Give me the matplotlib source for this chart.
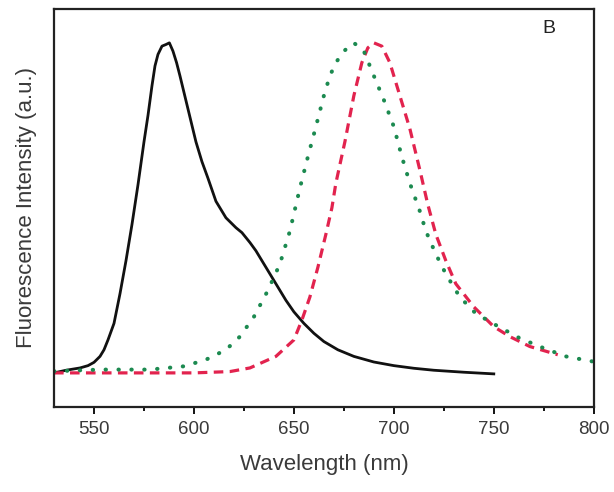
import matplotlib
matplotlib.use("Agg")
import matplotlib.pyplot as plt
from matplotlib.ticker import MultipleLocator

plt.rcParams["font.family"] = ["Liberation Sans", "DejaVu Sans"]

# black solid spectrum
black_nm = [530, 536, 543, 547, 550, 553, 555, 557, 560, 563, 566, 569, 572,
            575, 577, 579, 580.5, 582, 584, 586, 587.7, 589.5, 591.3, 593,
            595, 597, 599, 601, 604, 607, 611, 616, 621, 624, 626, 628, 631,
            635, 640, 646, 650, 655, 660, 665, 672, 680, 690, 700, 710, 720,
            735, 750]
black_val = [0.0, 0.008, 0.015, 0.022, 0.032, 0.05, 0.07, 0.1, 0.15, 0.24,
             0.34, 0.45, 0.57, 0.70, 0.78, 0.87, 0.93, 0.965, 0.99, 0.995,
             1.0, 0.975, 0.94, 0.9, 0.85, 0.80, 0.75, 0.70, 0.64, 0.59, 0.52,
             0.47, 0.44, 0.425, 0.41, 0.395, 0.37, 0.33, 0.28, 0.22, 0.185,
             0.15, 0.12, 0.095, 0.07, 0.05, 0.033, 0.022, 0.014, 0.008,
             0.002, -0.003]

# green dotted spectrum
green_nm = [530, 553, 578, 595, 606, 616, 623, 630, 637, 643, 648, 653, 657,
            661, 665, 668, 671, 675, 680, 685, 690, 695, 700, 704, 708, 713,
            716, 721, 726, 733, 741, 751, 763, 775, 786, 800]
green_val = [0.005, 0.01, 0.01, 0.02, 0.04, 0.07, 0.11, 0.17, 0.25, 0.33, 0.43,
             0.56, 0.655, 0.746, 0.84, 0.90, 0.94, 0.975, 1.0, 0.975, 0.90,
             0.827, 0.746, 0.655, 0.575, 0.49, 0.43, 0.36, 0.30, 0.23, 0.18,
             0.145, 0.105, 0.075, 0.05, 0.034]

# red dashed spectrum
red_nm = [530, 560, 600, 618, 628, 641, 650, 654, 658, 662, 666, 669, 671,
          675.5, 680, 684, 687, 690, 694, 698, 703, 708, 713, 717, 721, 726,
          731, 740, 750, 758, 768, 782]
red_val = [0.0, 0.0, 0.0, 0.004, 0.015, 0.05, 0.10, 0.16, 0.23, 0.32, 0.42,
           0.50, 0.575, 0.70, 0.84, 0.94, 0.985, 1.0, 0.99, 0.94, 0.84, 0.74,
           0.615, 0.51, 0.42, 0.34, 0.27, 0.20, 0.14, 0.11, 0.08, 0.055]

fig = plt.figure(figsize=(6.14, 4.92), dpi=100)
ax = fig.add_axes([0.088, 0.173, 0.879, 0.809])

ax.plot(black_nm, black_val, color="#111111", linewidth=2.0,
        solid_joinstyle="round")
ax.plot(red_nm, red_val, color="#e2234e", linewidth=2.3,
        linestyle=(0, (3, 2)))
ax.plot(green_nm, green_val, color="#1c8a50", linewidth=2.9,
        linestyle=(0, (0.1, 3.1)), dash_capstyle="round")

ax.set_xlim(530, 800)
ax.set_ylim(-0.103, 1.103)
ax.xaxis.set_major_locator(MultipleLocator(50))
ax.xaxis.set_minor_locator(MultipleLocator(25))
ax.set_yticks([])
ax.tick_params(axis="x", which="major", direction="out", length=5, width=1.3,
               labelsize=13.5, labelcolor="#3a3a3a", pad=5)
ax.tick_params(axis="x", which="minor", direction="out", length=3, width=1.3)
for s in ax.spines.values():
    s.set_linewidth(1.6)
    s.set_color("#222222")

ax.set_xlabel("Wavelength (nm)", fontsize=16, color="#3a3a3a", labelpad=12)
ax.set_ylabel("Fluorescence Intensity (a.u.)", fontsize=16, color="#3a3a3a",
              labelpad=12)
ax.text(0.917, 0.95, "B", transform=ax.transAxes, fontsize=14,
        color="#222222", ha="center", va="center")

fig.savefig("out.png", dpi=100)
